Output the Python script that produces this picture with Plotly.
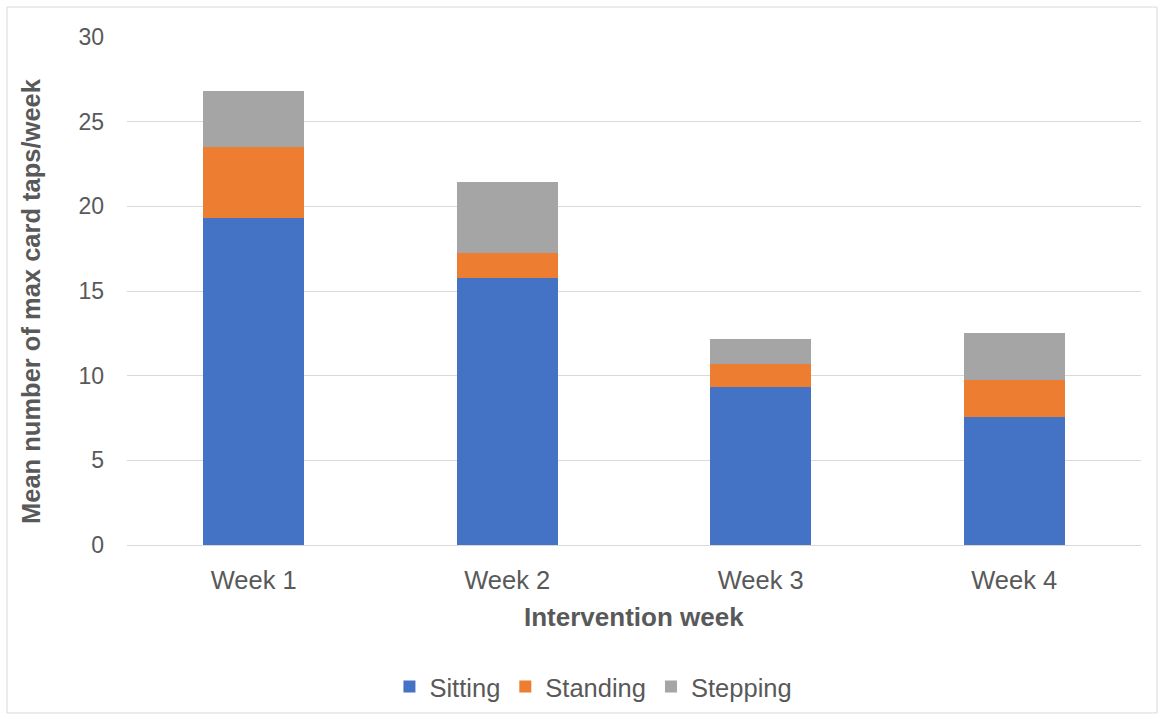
import plotly.graph_objects as go

weeks = ["Week 1", "Week 2", "Week 3", "Week 4"]
sitting = [19.31, 15.76, 9.31, 7.53]
standing = [4.22, 1.50, 1.36, 2.19]
stepping = [3.27, 4.18, 1.48, 2.81]
y_ticks = [0, 5, 10, 15, 20, 25, 30]

fig = go.Figure()
for name, vals, col in [("Sitting", sitting, "#4472C4"),
                        ("Standing", standing, "#ED7D31"),
                        ("Stepping", stepping, "#A5A5A5")]:
    fig.add_trace(go.Bar(x=weeks, y=vals, name=name, marker=dict(color=col, line=dict(width=0))))

font_family = "Liberation Sans, Arial, sans-serif"
L, T, PW, PH = 127, 37, 1014, 508
def px(x): return (x - L) / PW
def py(y): return (T + PH - y) / PH

fig.update_layout(
    barmode="stack",
    bargap=0.6,
    width=1164, height=719,
    margin=dict(l=127, r=23, t=37, b=174, autoexpand=False),
    plot_bgcolor="white", paper_bgcolor="white",
    font=dict(family=font_family, size=24, color="#595959"),
    xaxis=dict(
        automargin=False,
        showline=True, linecolor="#d9d9d9", linewidth=1,
        ticks="", tickfont=dict(size=25.5, color="#595959"), ticklabelstandoff=12,
    ),
    yaxis=dict(
        automargin=False,
        range=[0, 30], tickvals=y_ticks, showgrid=True, gridcolor="#d9d9d9", gridwidth=1,
        zeroline=False, showline=False, ticks="", tickfont=dict(size=23, color="#595959"),
        ticklabelstandoff=22,
    ),
    legend=dict(orientation="h", x=0.46, xanchor="center", y=py(687), yanchor="middle",
                font=dict(size=25.5, color="#595959"), traceorder="normal", itemwidth=30),
    showlegend=True,
    annotations=[
        dict(text="<b>Intervention week</b>", xref="paper", yref="paper", x=px(634), y=py(617),
             xanchor="center", yanchor="middle", showarrow=False, font=dict(size=26, color="#595959")),
        dict(text="<b>Mean number of max card taps/week</b>", xref="paper", yref="paper",
             x=px(31), y=py(301), xanchor="center", yanchor="middle", textangle=-90,
             showarrow=False, font=dict(size=25.5, color="#595959")),
    ],
    shapes=[dict(type="rect", xref="paper", yref="paper",
                 x0=px(7), x1=px(1157), y0=py(713), y1=py(7),
                 line=dict(color="#d9d9d9", width=1), fillcolor="rgba(0,0,0,0)", layer="below")],
)

fig.write_html("out.html")
